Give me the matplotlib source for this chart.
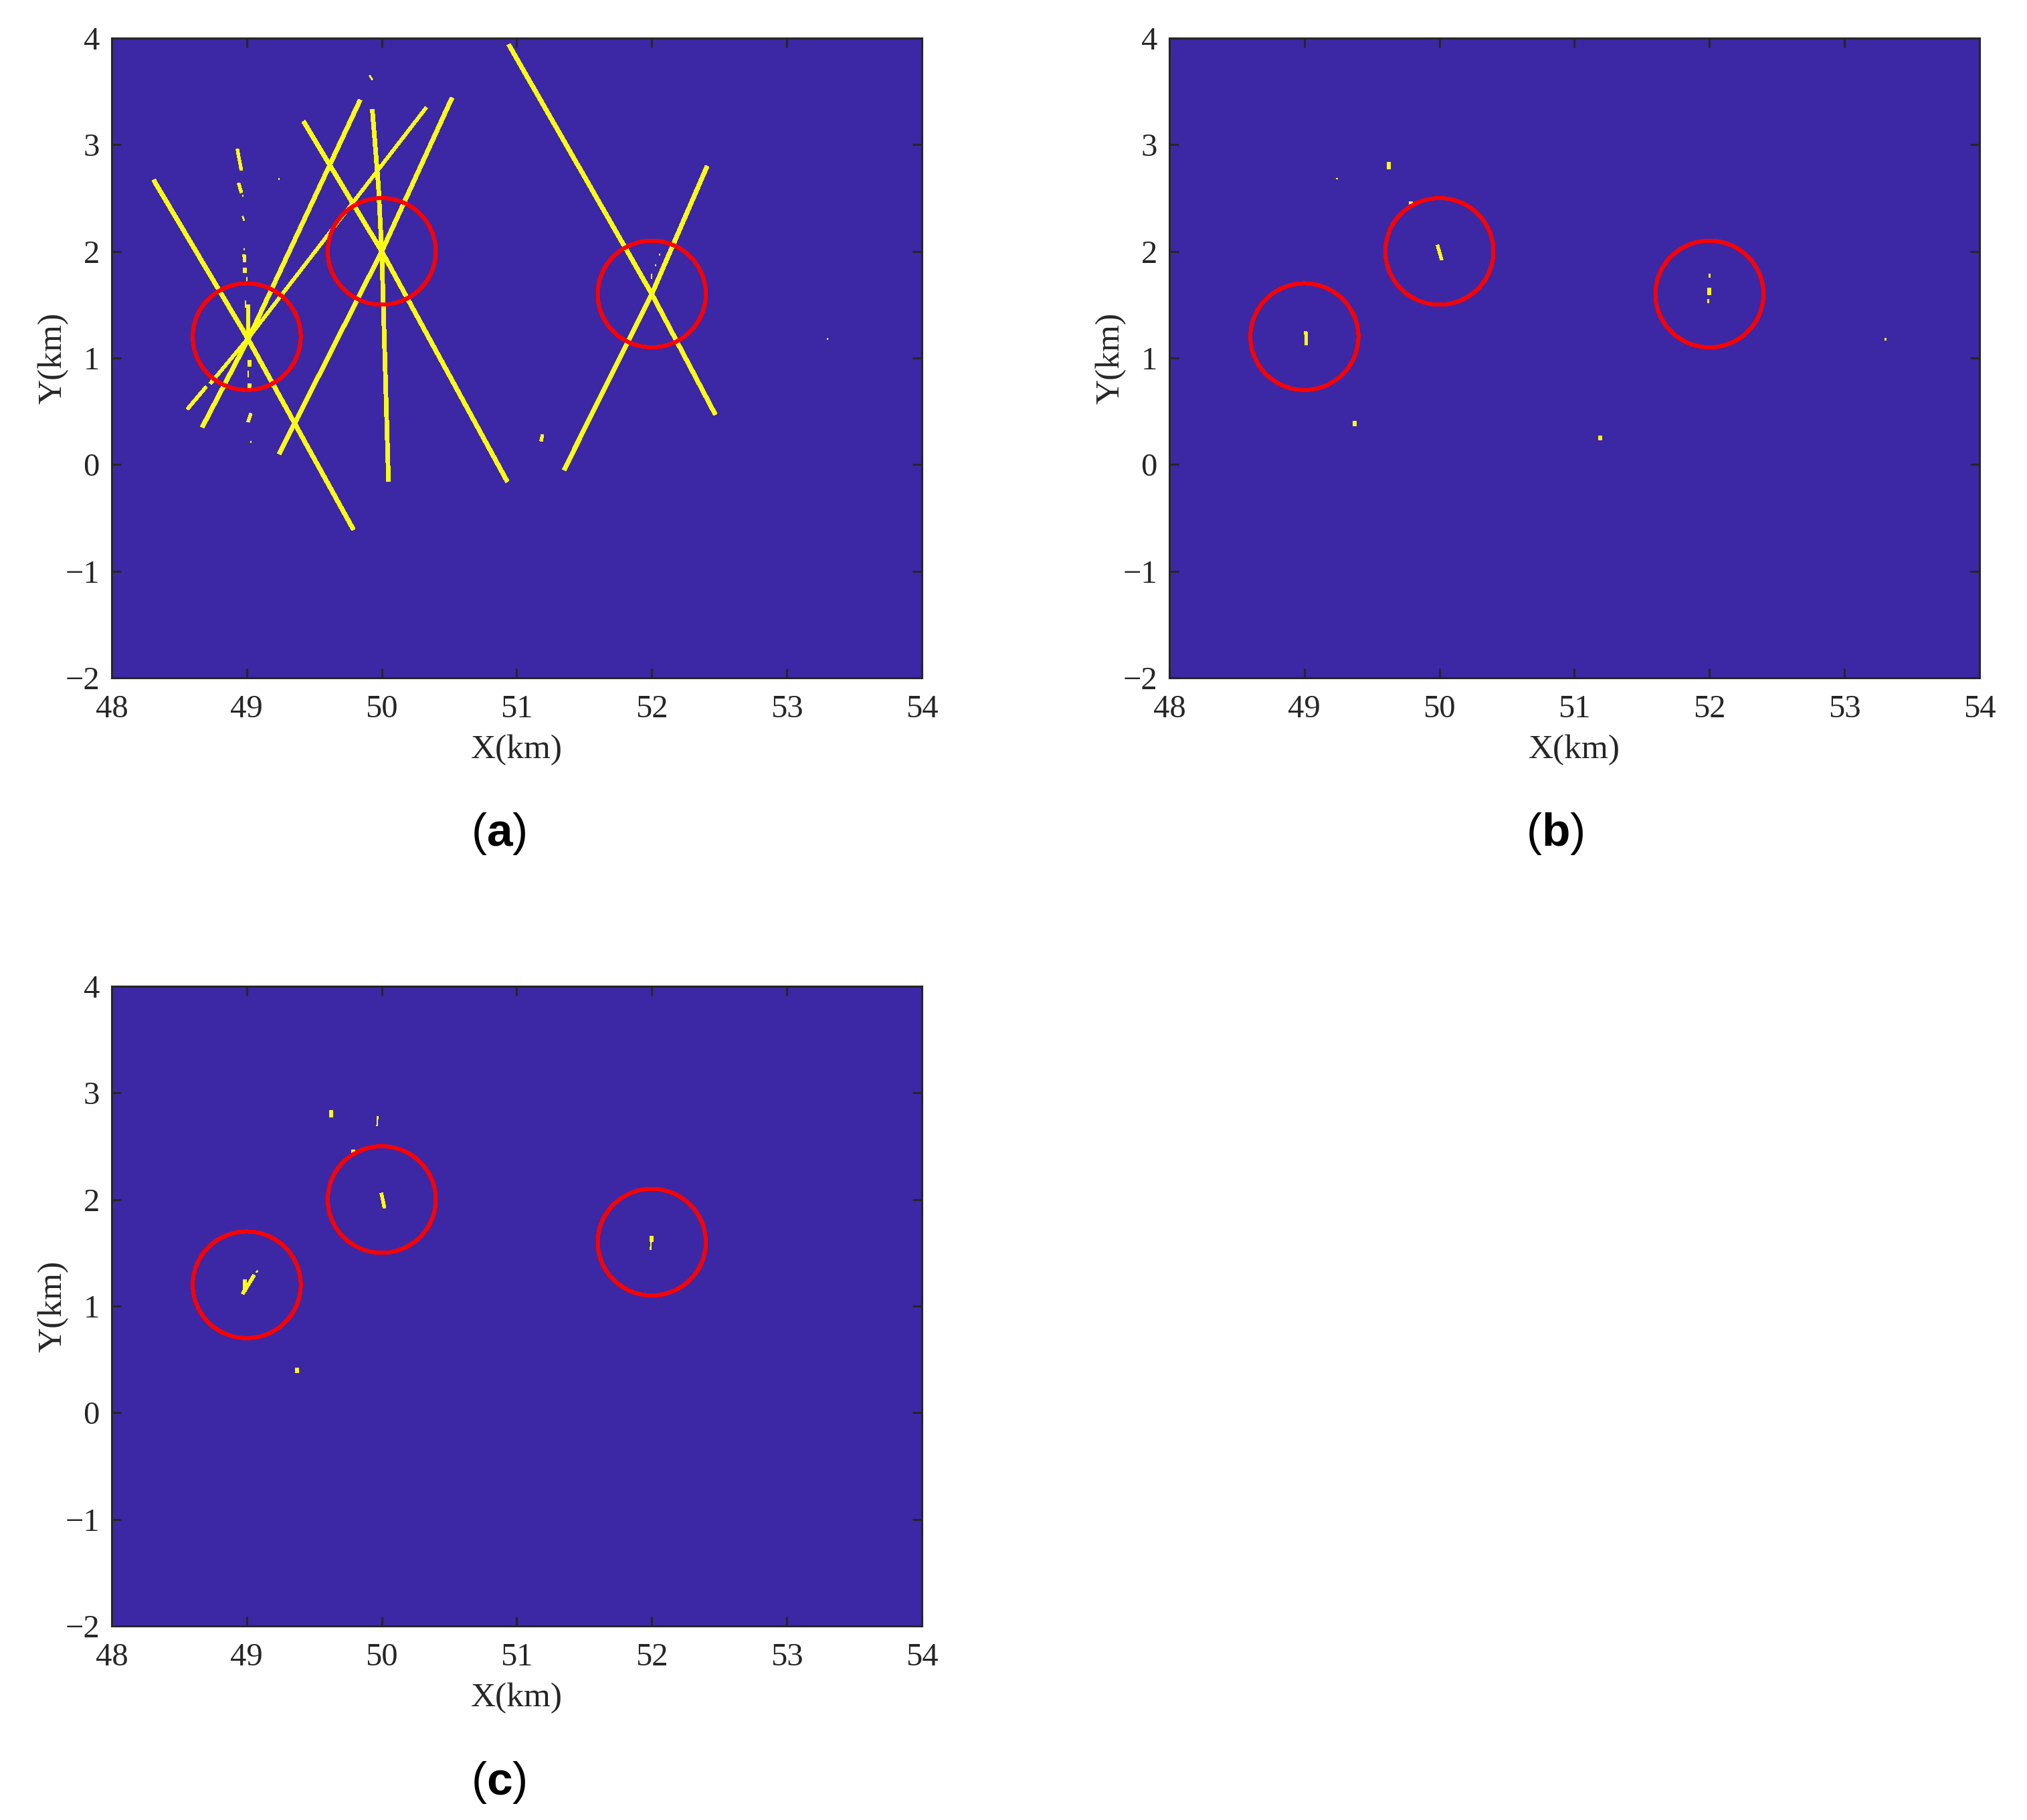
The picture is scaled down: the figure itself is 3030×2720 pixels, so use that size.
import matplotlib
matplotlib.use('Agg')
import matplotlib.pyplot as plt
from matplotlib.patches import Ellipse

plt.rcParams['font.family'] = ['Liberation Serif', 'DejaVu Serif']
plt.rcParams['mathtext.fontset'] = 'custom'
plt.rcParams['mathtext.rm'] = 'Liberation Sans'
plt.rcParams['mathtext.bf'] = 'Liberation Sans:bold'

# true target positions (km)
target_x = [49, 50, 52]
target_y = [1.2, 2.0, 1.6]

x_ticks = [48, 49, 50, 51, 52, 53, 54]
y_ticks = [-2, -1, 0, 1, 2, 3, 4]

# panel a: the long detection strips, [x...], [y...]
a_lines_x = [
    [48.31, 49.0, 49.79],
    [48.67, 49.02, 49.84],
    [49.24, 50.0, 50.52],
    [49.42, 50.0, 50.93],
    [49.93, 49.975, 50.0, 50.05],
    [50.94, 52.0, 52.47],
    [51.35, 52.0, 52.41],
]
a_lines_y = [
    [2.67, 1.2, -0.61],
    [0.35, 1.2, 3.42],
    [0.10, 2.0, 3.44],
    [3.22, 2.0, -0.16],
    [3.33, 2.62, 2.0, -0.16],
    [3.94, 1.6, 0.47],
    [-0.05, 1.6, 2.80],
]
# the strip that breaks up below the first target
a_thin_x = [[48.56, 48.70], [48.73, 49.02, 50.33]]
a_thin_y = [[0.52, 0.73], [0.76, 1.2, 3.35]]

# [x0, y0, x1, y1] for the short fragments
a_spots = [
    [48.93, 2.96, 48.96, 2.76],
    [48.94, 2.64, 48.96, 2.55],
    [48.98, 1.97, 48.985, 1.90],
    [48.985, 1.85, 48.985, 1.80],
    [49.01, 1.50, 49.01, 1.22],
    [49.02, 0.98, 49.02, 0.92],
    [49.02, 0.76, 49.02, 0.72],
    [49.01, 0.40, 49.03, 0.48],
    [51.18, 0.22, 51.19, 0.28],
]
a_specks = [
    [48.97, 2.53, 48.97, 2.51],
    [49.24, 2.69, 49.24, 2.67],
    [48.97, 2.33, 48.98, 2.29],
    [48.98, 2.03, 48.98, 2.01],
    [49.00, 1.76, 49.00, 1.72],
    [48.99, 1.54, 48.99, 1.47],
    [49.01, 0.88, 49.01, 0.82],
    [49.03, 0.22, 49.03, 0.20],
    [49.91, 3.65, 49.93, 3.61],
    [52.00, 1.79, 52.00, 1.74],
    [52.03, 1.88, 52.03, 1.86],
    [52.06, 1.98, 52.06, 1.96],
    [53.30, 1.19, 53.30, 1.17],
]

b_spots = [
    [49.01, 1.25, 49.015, 1.125],
    [49.985, 2.06, 50.017, 1.92],
    [52.0, 1.66, 52.0, 1.59],
    [49.626, 2.84, 49.626, 2.77],
    [49.79, 2.47, 49.79, 2.44],
    [49.37, 0.41, 49.37, 0.36],
    [51.19, 0.27, 51.19, 0.23],
]
b_specks = [
    [51.99, 1.55, 51.99, 1.52],
    [52.0, 1.79, 52.0, 1.76],
    [49.24, 2.69, 49.24, 2.68],
    [53.30, 1.19, 53.30, 1.17],
]

c_spots = [
    [48.97, 1.116, 49.055, 1.29],
    [48.985, 1.13, 48.985, 1.25],
    [49.997, 2.06, 50.02, 1.92],
    [52.0, 1.66, 52.0, 1.60],
    [49.625, 2.84, 49.625, 2.77],
    [49.79, 2.47, 49.79, 2.44],
    [49.37, 0.42, 49.37, 0.37],
]
c_specks = [
    [49.07, 1.32, 49.08, 1.33],
    [51.995, 1.60, 51.99, 1.53],
    [49.97, 2.78, 49.965, 2.69],
]

BG = '#3C28A5'
YELLOW = '#F9FB15'
DARK = '#262626'
W, H = 3030, 2720


def make_axes(left, top):
    ax = fig.add_axes([left / W, 1 - (top + 956) / H, 1211 / W, 956 / H], facecolor=BG)
    ax.set_xlim(48, 54)
    ax.set_ylim(-2, 4)
    ax.set_xticks(x_ticks)
    ax.set_yticks(y_ticks)
    ax.tick_params(direction='in', top=True, right=True, length=10, width=2.2,
                   color=DARK, labelcolor=DARK, labelsize=35)
    ax.tick_params(axis='x', pad=18)
    ax.tick_params(axis='y', pad=13)
    for s in ax.spines.values():
        s.set_linewidth(2.2)
        s.set_color(DARK)
    ax.set_xlabel('X(km)', fontsize=37, color=DARK, labelpad=11)
    ax.set_ylabel('Y(km)', fontsize=37, color=DARK, labelpad=-4)
    return ax


def draw_fragments(ax, frags, lw):
    for x0, y0, x1, y1 in frags:
        ax.plot([x0, x1], [y0, y1], color=YELLOW, lw=lw, antialiased=False,
                solid_capstyle='butt')


def draw_circles(ax):
    for cx, cy in zip(target_x, target_y):
        ax.add_patch(Ellipse((cx, cy), 0.8, 1.0, fill=False, ec='#FF0000', lw=3.6,
                             antialiased=False, zorder=5))


fig = plt.figure(figsize=(W / 100, H / 100), dpi=100, facecolor='white')

ax_a = make_axes(167, 57)
for xs, ys in zip(a_lines_x, a_lines_y):
    ax_a.plot(xs, ys, color=YELLOW, lw=4.2, antialiased=False, solid_capstyle='butt')
for xs, ys in zip(a_thin_x, a_thin_y):
    ax_a.plot(xs, ys, color=YELLOW, lw=3.2, antialiased=False, solid_capstyle='butt')
draw_fragments(ax_a, a_spots, 3.0)
draw_fragments(ax_a, a_specks, 1.2)
draw_circles(ax_a)

ax_b = make_axes(1748, 57)
draw_fragments(ax_b, b_spots, 3.0)
draw_fragments(ax_b, b_specks, 1.0)
draw_circles(ax_b)

ax_c = make_axes(167, 1474)
draw_fragments(ax_c, c_spots, 3.2)
draw_fragments(ax_c, c_specks, 1.0)
draw_circles(ax_c)

panel_labels = ['a', 'b', 'c']
label_px = [(745, 1246), (2324, 1246), (745, 2664)]
for lab, (px, py) in zip(panel_labels, label_px):
    fig.text(px / W, 1 - py / H, r'$\mathrm{(}\mathbf{%s}\mathrm{)}$' % lab,
             fontsize=50, ha='center', va='center', color='black')

fig.savefig('out.png', dpi=100)
